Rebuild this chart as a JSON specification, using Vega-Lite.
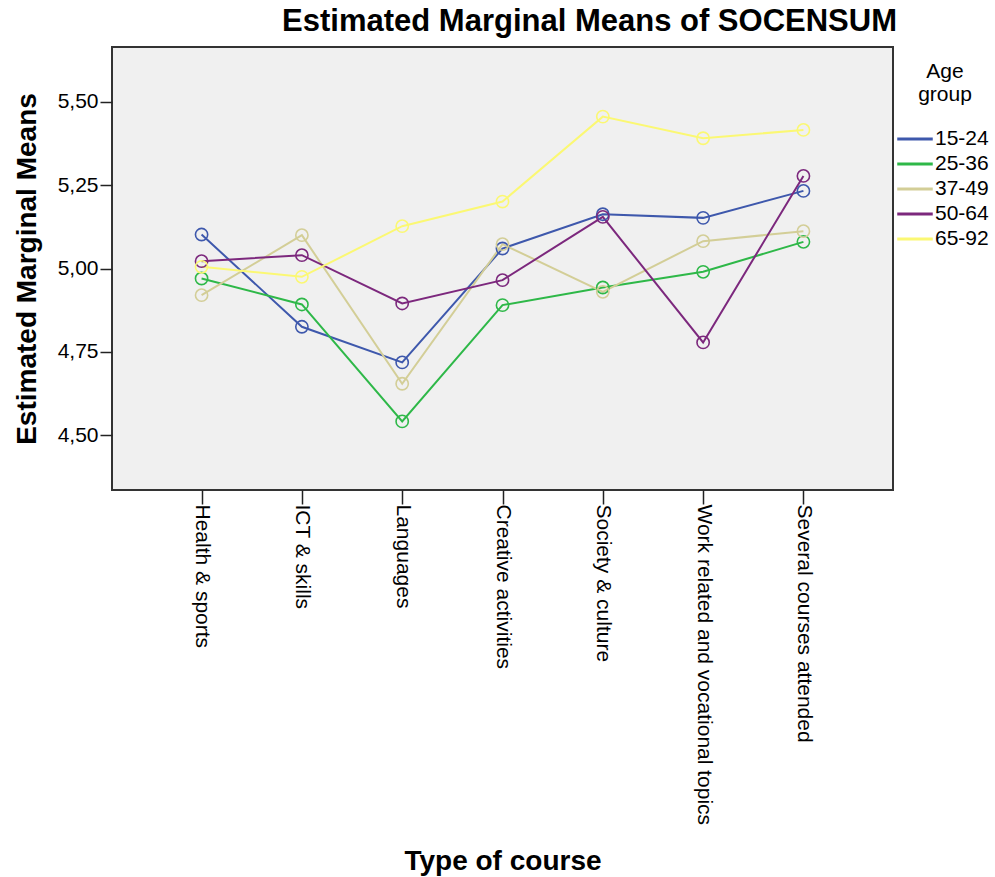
{
  "$schema": "https://vega.github.io/schema/vega-lite/v6.json",
  "width": 781,
  "height": 443,
  "autosize": "none",
  "padding": {"left": 112, "top": 47, "right": 102, "bottom": 387},
  "background": "white",
  "title": {
    "text": "Estimated Marginal Means of SOCENSUM",
    "anchor": "end",
    "frame": "group",
    "dx": 4,
    "offset": 9,
    "font": "Liberation Sans",
    "fontSize": 31,
    "fontWeight": "bold",
    "color": "#000000"
  },
  "data": {
    "values": [
      {"course": "Health & sports", "age": "15-24", "mean": 5.102},
      {"course": "Health & sports", "age": "25-36", "mean": 4.970},
      {"course": "Health & sports", "age": "37-49", "mean": 4.920},
      {"course": "Health & sports", "age": "50-64", "mean": 5.022},
      {"course": "Health & sports", "age": "65-92", "mean": 5.005},
      {"course": "ICT & skills", "age": "15-24", "mean": 4.825},
      {"course": "ICT & skills", "age": "25-36", "mean": 4.892},
      {"course": "ICT & skills", "age": "37-49", "mean": 5.100},
      {"course": "ICT & skills", "age": "50-64", "mean": 5.040},
      {"course": "ICT & skills", "age": "65-92", "mean": 4.975},
      {"course": "Languages", "age": "15-24", "mean": 4.718},
      {"course": "Languages", "age": "25-36", "mean": 4.541},
      {"course": "Languages", "age": "37-49", "mean": 4.654},
      {"course": "Languages", "age": "50-64", "mean": 4.895},
      {"course": "Languages", "age": "65-92", "mean": 5.127},
      {"course": "Creative activities", "age": "15-24", "mean": 5.060},
      {"course": "Creative activities", "age": "25-36", "mean": 4.890},
      {"course": "Creative activities", "age": "37-49", "mean": 5.073},
      {"course": "Creative activities", "age": "50-64", "mean": 4.965},
      {"course": "Creative activities", "age": "65-92", "mean": 5.201},
      {"course": "Society & culture", "age": "15-24", "mean": 5.163},
      {"course": "Society & culture", "age": "25-36", "mean": 4.943},
      {"course": "Society & culture", "age": "37-49", "mean": 4.930},
      {"course": "Society & culture", "age": "50-64", "mean": 5.155},
      {"course": "Society & culture", "age": "65-92", "mean": 5.456},
      {"course": "Work related and vocational topics", "age": "15-24", "mean": 5.152},
      {"course": "Work related and vocational topics", "age": "25-36", "mean": 4.990},
      {"course": "Work related and vocational topics", "age": "37-49", "mean": 5.082},
      {"course": "Work related and vocational topics", "age": "50-64", "mean": 4.778},
      {"course": "Work related and vocational topics", "age": "65-92", "mean": 5.391},
      {"course": "Several courses attended", "age": "15-24", "mean": 5.233},
      {"course": "Several courses attended", "age": "25-36", "mean": 5.080},
      {"course": "Several courses attended", "age": "37-49", "mean": 5.112},
      {"course": "Several courses attended", "age": "50-64", "mean": 5.278},
      {"course": "Several courses attended", "age": "65-92", "mean": 5.416}
    ]
  },
  "encoding": {
    "x": {
      "field": "course",
      "type": "nominal",
      "sort": ["Health & sports", "ICT & skills", "Languages", "Creative activities", "Society & culture", "Work related and vocational topics", "Several courses attended"],
      "scale": {"type": "point", "padding": 0.893},
      "axis": {
        "title": "Type of course",
        "labelAngle": 90,
        "labelPadding": 0,
        "labelLimit": 500,
        "tickSize": 14,
        "titlePadding": 157
      }
    },
    "y": {
      "field": "mean",
      "type": "quantitative",
      "scale": {"domain": [4.335, 5.665], "nice": false, "zero": false},
      "axis": {
        "title": "Estimated Marginal Means",
        "values": [4.5, 4.75, 5, 5.25, 5.5],
        "labelExpr": "replace(format(datum.value, '.2f'), '.', ',')",
        "tickSize": 12,
        "labelPadding": 2,
        "titlePadding": 16,
        "grid": false
      }
    },
    "color": {
      "field": "age",
      "type": "nominal",
      "scale": {
        "domain": ["15-24", "25-36", "37-49", "50-64", "65-92"],
        "range": ["#3E58AC", "#2EB848", "#D3CE97", "#7C287D", "#FBF873"]
      },
      "legend": {
        "title": ["Age", "group"],
        "orient": "none",
        "legendX": 789,
        "legendY": 14,
        "symbolType": "M-1.45,0H1.45",
        "symbolSize": 600,
        "symbolStrokeWidth": 3,
        "symbolFillColor": "transparent"
      }
    }
  },
  "layer": [
    {"mark": {"type": "line", "strokeWidth": 2}},
    {"mark": {"type": "point", "filled": false, "shape": "circle", "size": 150, "strokeWidth": 1.6, "opacity": 1}}
  ],
  "config": {
    "font": "Liberation Sans",
    "view": {"fill": "#F0F0F0", "stroke": "#333333", "strokeWidth": 2},
    "axis": {
      "domain": false,
      "tickColor": "#222222",
      "tickWidth": 1.5,
      "labelFont": "Liberation Sans",
      "labelFontSize": 21,
      "labelColor": "#000000",
      "titleFont": "Liberation Sans",
      "titleFontSize": 28,
      "titleFontWeight": "bold",
      "titleColor": "#000000"
    },
    "legend": {
      "titleFont": "Liberation Sans",
      "titleFontSize": 21,
      "titleFontWeight": "normal",
      "titleColor": "#000000",
      "titleAlign": "center",
      "titleAnchor": "middle",
      "titleLimit": 200,
      "titlePadding": 20,
      "titleLineHeight": 23,
      "labelFont": "Liberation Sans",
      "labelFontSize": 21,
      "labelColor": "#000000",
      "labelOffset": 6,
      "rowPadding": 1,
      "padding": 0
    }
  }
}
